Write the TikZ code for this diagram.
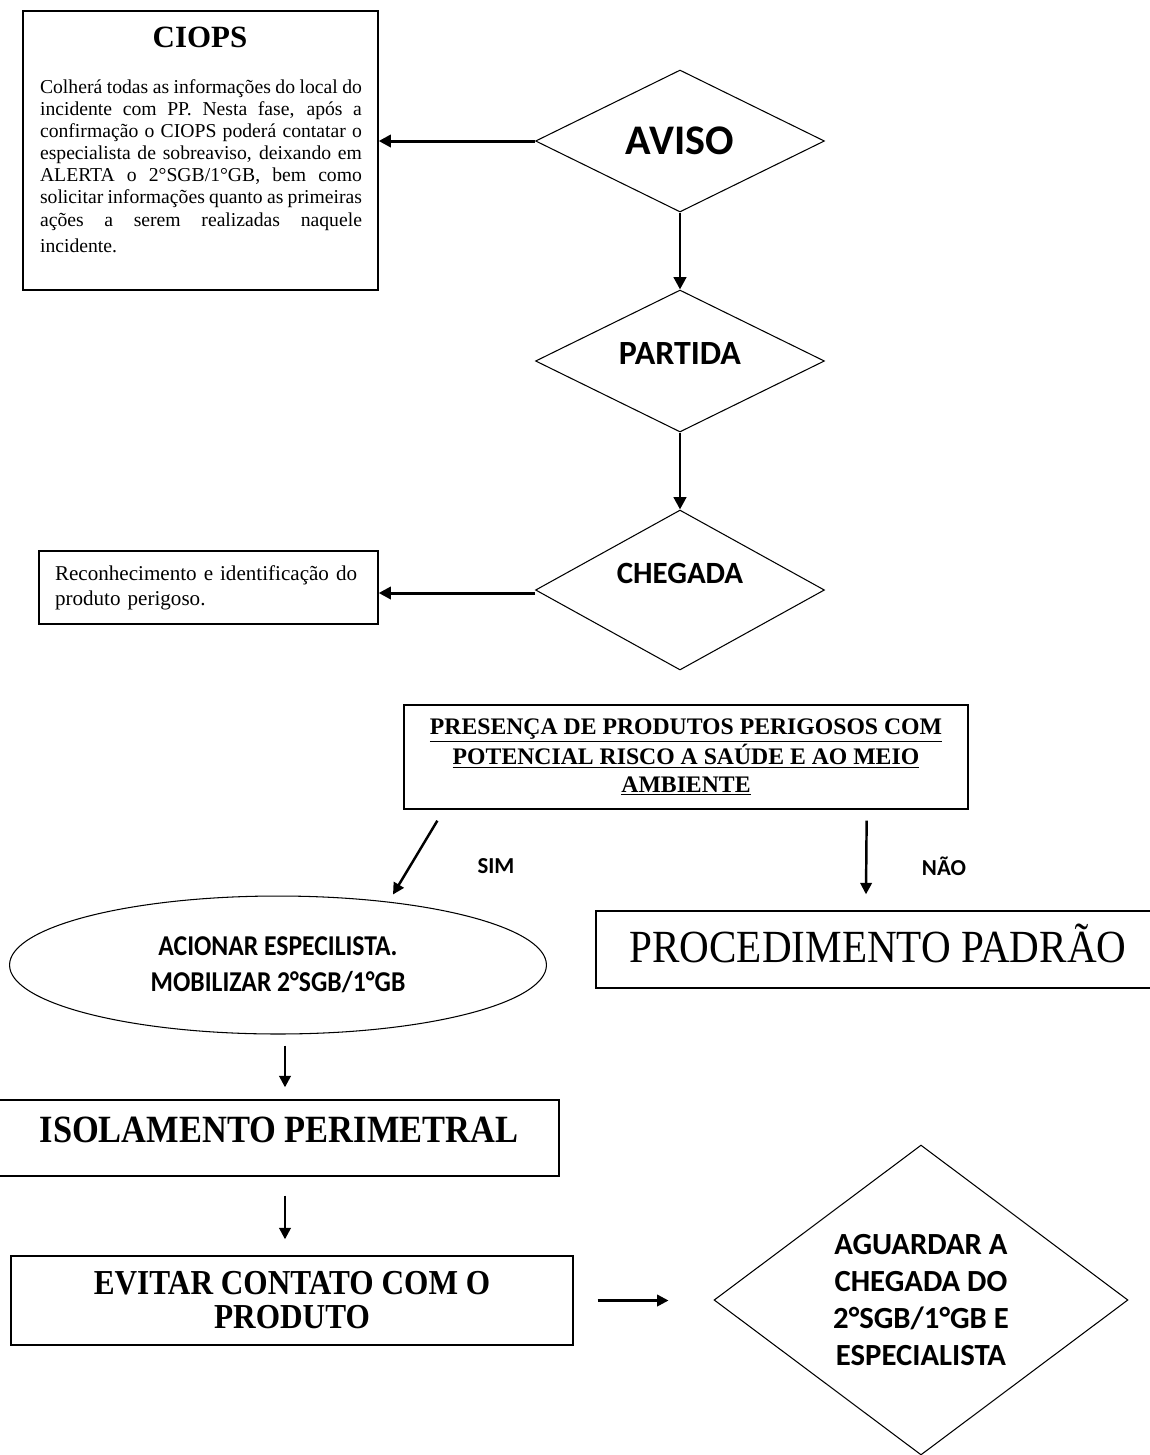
\documentclass[tikz,border=0pt]{standalone}
\usepackage{fontspec}
\setmainfont{Liberation Serif}
\newfontfamily\calibri{Carlito}
\usetikzlibrary{shapes.geometric,arrows.meta,calc}
\tikzset{box/.style={draw, rectangle, line width=0.8pt, inner sep=0pt},
  decision/.style={draw, diamond, aspect=2, line width=0.6pt, inner sep=0pt},
  conn/.style={-{Triangle[length=7pt,width=7pt]}, line width=1.7pt},
  thinconn/.style={-{Triangle[length=6.5pt,width=6.5pt]}, line width=1.4pt},
  sanslabel/.style={font=\calibri\bfseries\fontsize{13}{15}\selectfont}}
\newcommand{\tall}[1]{\scalebox{1}[1.12]{#1}}

\begin{document}
\begin{tikzpicture}[x=0.02cm, y=-0.02cm]
  \useasboundingbox (0,0) rectangle (1150,1455);

  % aviso, partida, chegada
  \node [box, minimum width=7.1cm, minimum height=5.58cm] (ciops) at (200.5,150.5) {};
  \node [font=\bfseries\fontsize{17.6}{20}\selectfont] (ciopstitle) at (200,37) {CIOPS};
  \node [anchor=north, text width=6.44cm, align=justify, inner sep=0pt, font=\fontsize{11.2}{12.6}\selectfont] (ciopstext) at (201,79)
    {Colherá todas as informações do local do\linebreak
     incidente com PP. Nesta fase, após a\linebreak
     confirmação o CIOPS poderá contatar o\linebreak
     especialista de sobreaviso, deixando em\linebreak
     ALERTA o 2°SGB/1°GB, bem como\linebreak
     solicitar informações quanto as primeiras\linebreak
     ações a serem realizadas naquele\vadjust{\vskip 2.3pt}\linebreak
     incidente.};
  \node [decision, minimum width=5.78cm, minimum height=2.84cm, font=\calibri\bfseries\fontsize{24}{28}\selectfont] (aviso) at (680,141) {AVISO};
  \node [decision, minimum width=5.78cm, minimum height=2.84cm, text depth=9pt, font=\calibri\bfseries\fontsize{19.3}{22}\selectfont] (partida) at (680,361) {PARTIDA};
  \node [decision, minimum width=5.78cm, minimum height=3.2cm, text depth=19pt, font=\calibri\bfseries\fontsize{17.6}{22}\selectfont] (chegada) at (680,590) {CHEGADA};
  \node [box, minimum height=1.46cm, text width=6.14cm, inner xsep=0.32cm, align=left, font=\fontsize{12}{14.2}\selectfont] (reconh) at (208.5,587.5)
    {Reconhecimento e identificação do\\produto perigoso.};

  \coordinate (chegW) at ($(chegada.west)+(0,3)$);
  \draw [conn] (aviso.west) -- (aviso.west -| ciops.east);
  \draw [conn] (aviso) -- (partida);
  \draw [conn] (partida) -- (chegada);
  \draw [conn] (chegW) -- (chegW -| reconh.east);

  % presenca de PP
  \node [box, minimum width=11.28cm, minimum height=2.08cm, align=center, font=\bfseries\fontsize{13.5}{15.6}\selectfont] (presenca) at (686,757)
    {\underline{PRESENÇA DE PRODUTOS PERIGOSOS COM}\\\underline{POTENCIAL RISCO A SAÚDE E AO MEIO}\\\underline{AMBIENTE}};
  \node [draw, ellipse, minimum width=10.74cm, minimum height=2.76cm, inner sep=0pt, line width=0.6pt, align=center, font=\calibri\bfseries\fontsize{14.6}{20.5}\selectfont] (acionar) at (278,965)
    {\tall{ACIONAR ESPECILISTA.}\\\tall{MOBILIZAR 2°SGB/1°GB}};
  \node [box, minimum width=11.28cm, minimum height=1.54cm, text depth=7.4pt, font=\fontsize{23.4}{26}\selectfont] (padrao) at (878,949.5) {\tall{PROCEDIMENTO PADRÃO}};

  \coordinate (simA) at ($(presenca.south west)+(34,11)$);
  \coordinate (simB) at ($(acionar.north)+(115,-1)$);
  \coordinate (naoA) at ($(presenca.south east)+(-102,11)$);
  \coordinate (naoB) at ($(padrao.north)+(-12,-16)$);
  \draw [thinconn] (simA) -- (simB);
  \draw [thinconn] (naoA) -- (naoB);
  \node [sanslabel] (sim) at (496,866) {SIM};
  \node [sanslabel] (nao) at (944,866) {NÃO};

  % sequencia do SIM
  \node [box, minimum width=11.2cm, minimum height=1.52cm, text depth=9pt, font=\bfseries\fontsize{19.6}{24}\selectfont] (isol) at (279,1138) {\tall{ISOLAMENTO PERIMETRAL}};
  \node [box, minimum width=11.24cm, minimum height=1.78cm, align=center, font=\bfseries\fontsize{17.8}{19.3}\selectfont] (evitar) at (292,1300.5)
    {\tall{EVITAR CONTATO COM O}\\\tall{PRODUTO}};
  \node [decision, aspect=1.34, minimum width=8.28cm, minimum height=6.2cm, align=center, font=\calibri\bfseries\fontsize{17.5}{21}\selectfont] (aguardar) at (921,1300)
    {AGUARDAR A\\CHEGADA DO\\2°SGB/1°GB E\\ESPECIALISTA};

  \coordinate (isolA) at ($(acionar.south)+(7,11)$);
  \coordinate (isolB) at ($(isol.north)+(6,-12)$);
  \coordinate (evitA) at ($(isol.south)+(6,19)$);
  \coordinate (evitB) at ($(evitar.north)+(-7,-16)$);
  \coordinate (aguaA) at ($(evitar.east)+(24,0)$);
  \coordinate (aguaB) at ($(aguaA -| aguardar.west)+(-45,0)$);
  \draw [thinconn] (isolA) -- (isolB);
  \draw [thinconn] (evitA) -- (evitB);
  \draw [thinconn] (aguaA) -- (aguaB);
\end{tikzpicture}
\end{document}
